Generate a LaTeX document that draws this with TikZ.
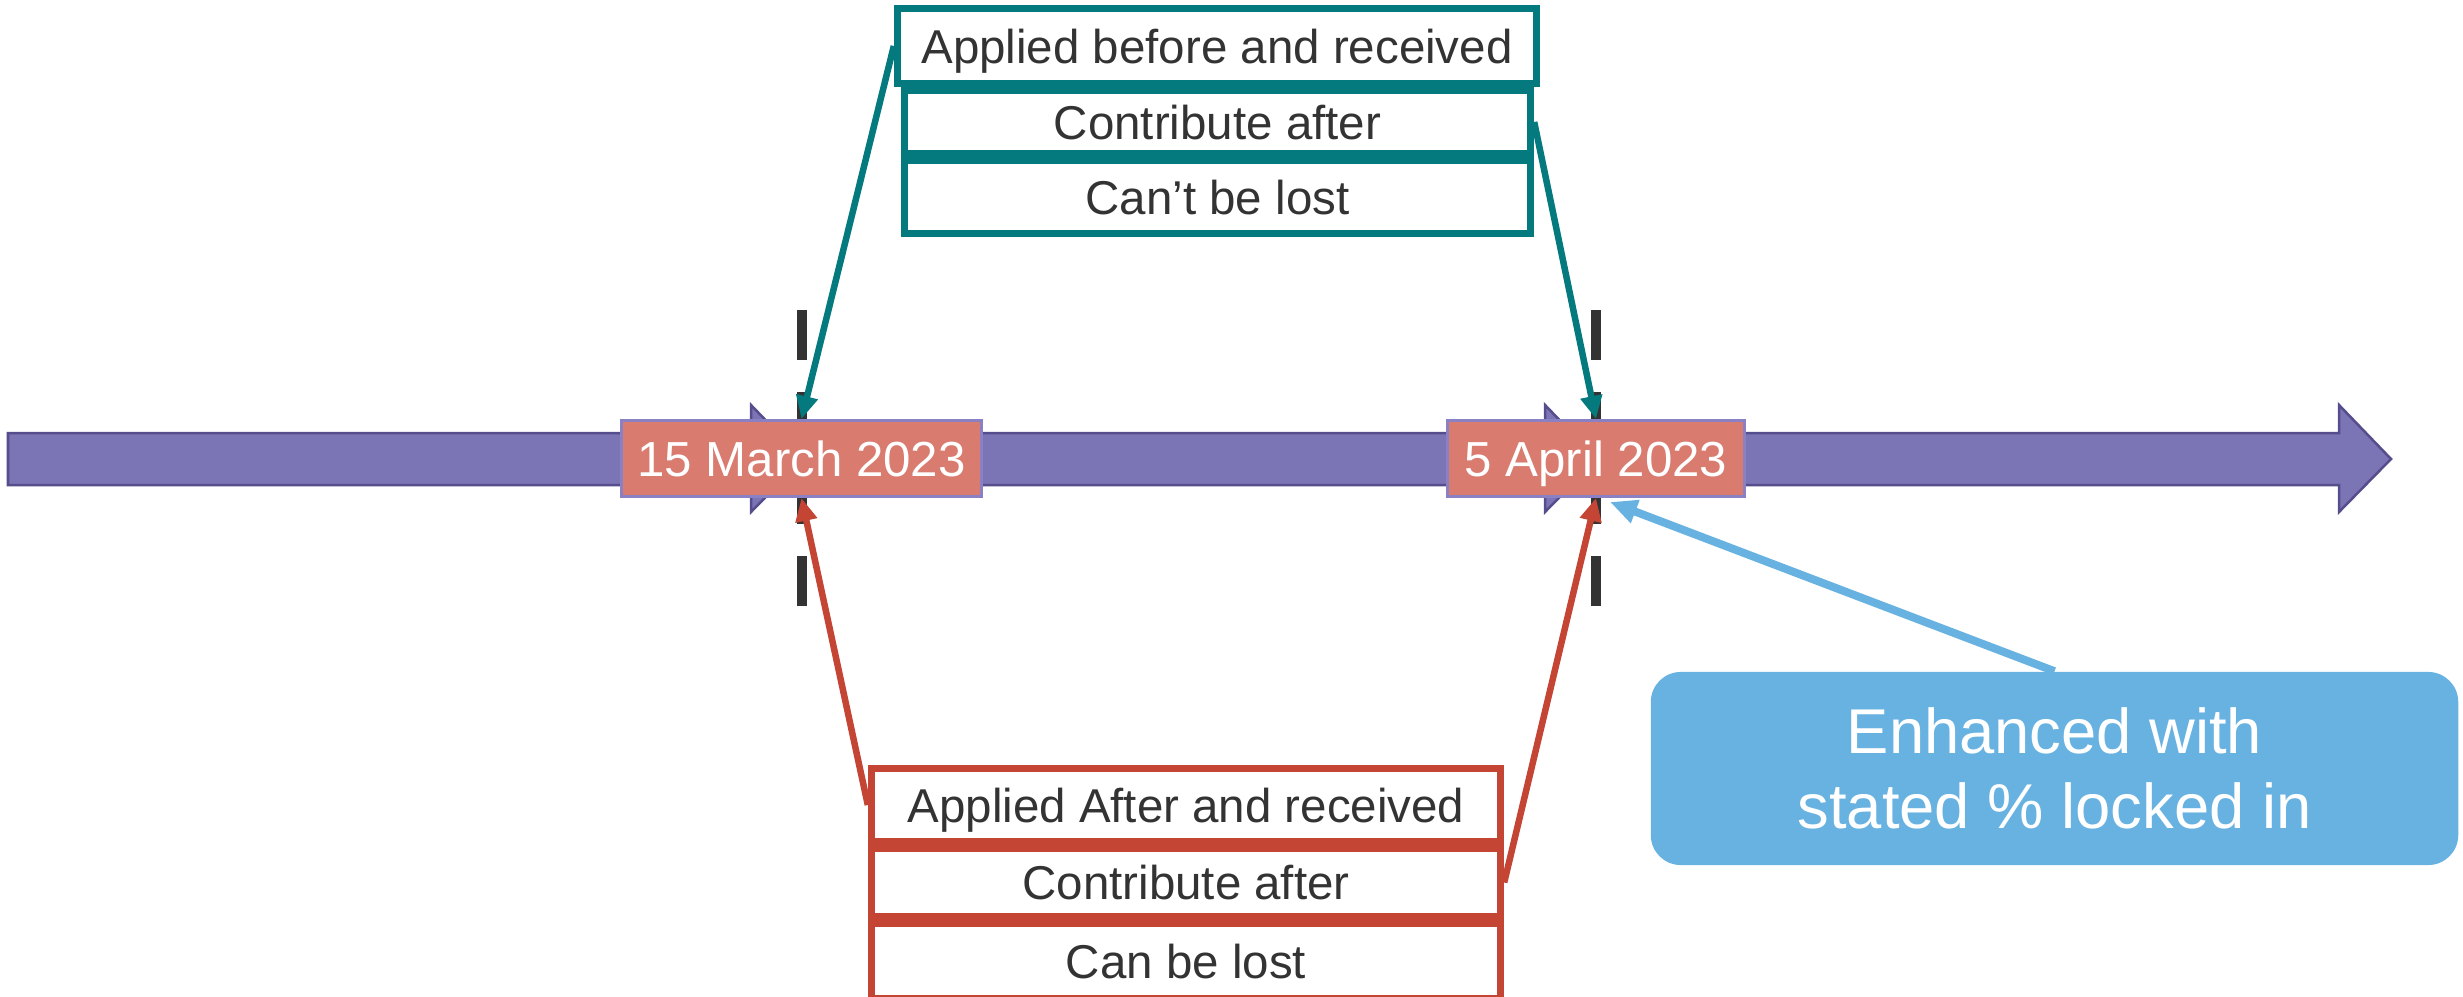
\documentclass[tikz,border=0pt]{standalone}
\usepackage{fontspec}
\setmainfont{Liberation Sans}
\usetikzlibrary{arrows.meta,calc}

\definecolor{barfill}{HTML}{7B75B5}
\definecolor{barline}{HTML}{564D8C}
\definecolor{datefill}{HTML}{D97B6F}
\definecolor{dateline}{HTML}{8A80C4}
\definecolor{tealc}{HTML}{047A7E}
\definecolor{rust}{HTML}{C54535}
\definecolor{sky}{HTML}{67B2E1}
\definecolor{ink}{HTML}{333333}

\tikzset{
  timebar/.style={fill=barfill, draw=barline, line width=0.025cm},
  datebox/.style={draw=dateline, line width=0.03cm, fill=datefill, text=white,
    font=\fontsize{14}{16}\selectfont, minimum height=0.76cm, inner sep=0pt,
    text height=10pt, text depth=0pt},
  stackbox/.style={line width=0.075cm, fill=white, text=ink,
    font=\fontsize{13.5}{16}\selectfont, inner sep=0pt,
    text height=9.7pt, text depth=0pt},
  tealbox/.style={stackbox, draw=tealc},
  redbox/.style={stackbox, draw=rust},
  marker/.style={draw=ink, line width=0.1cm, dash pattern=on 0.5cm off 0.32cm},
  link/.style={line width=0.065cm, -{Triangle[length=0.23cm,width=0.21cm]}},
  note/.style={fill=sky, rounded corners=0.3cm, text=white,
    font=\fontsize{18}{21.5}\selectfont, align=center,
    minimum width=8.07cm, minimum height=1.93cm, inner sep=0pt}
}

\begin{document}
\begin{tikzpicture}[x=0.01cm, y=-0.01cm]
\useasboundingbox (0,0) rectangle (2463,997);

% timeline arrow
\path[timebar] (8,433) -- (2339,433) -- (2339,405) -- (2391,459)
  -- (2339,512) -- (2339,485) -- (8,485) -- cycle;
% arrow heads of the timeline segments behind the date labels
\path[timebar] (751,405) -- (803,459) -- (751,512) -- cycle;
\path[timebar] (1545,405) -- (1597,459) -- (1545,512) -- cycle;

% dashed date markers
\coordinate (m1top) at (802,310);
\coordinate (m1bot) at (802,606);
\coordinate (m2top) at (1596,310);
\coordinate (m2bot) at (1596,606);
\draw[marker] (m1top) -- (m1bot);
\draw[marker] (m2top) -- (m2bot);

% date labels
\node[datebox, minimum width=3.60cm] (d1) at (801.5,458.5) {15 March 2023};
\node[datebox, minimum width=2.97cm] (d2) at (1596,458.5) {5 April 2023};

% upper stack
\node[tealbox, minimum width=6.385cm, minimum height=0.745cm] (tA) at (1217,46) {Applied before and received};
\node[tealbox, minimum width=6.255cm, minimum height=0.625cm] (tB) at (1217.5,122) {Contribute after};
\node[tealbox, minimum width=6.255cm, minimum height=0.725cm] (tC) at (1217.5,197) {Can’t be lost};

% lower stack
\node[redbox, minimum width=6.285cm, minimum height=0.725cm] (rA) at (1186,805) {Applied After and received};
\node[redbox, minimum width=6.285cm, minimum height=0.675cm] (rB) at (1186,882.5) {Contribute after};
\node[redbox, minimum width=6.285cm, minimum height=0.745cm] (rC) at (1186,961) {Can be lost};

% callout
\node[note] (n) at (2054.5,768.5) {Enhanced with\\stated \% locked in};
\coordinate (ntip) at (1610,502);

% connectors
\draw[link, tealc] (tA.west) -- (d1.north);
\draw[link, tealc] (tB.east) -- (d2.north);
\draw[link, rust] (rA.west) -- (d1.south);
\draw[link, rust] (rB.east) -- (d2.south);
\draw[sky, line width=0.08cm, -{Triangle[length=0.27cm,width=0.23cm]}] (n.north) -- (ntip);
\end{tikzpicture}
\end{document}
